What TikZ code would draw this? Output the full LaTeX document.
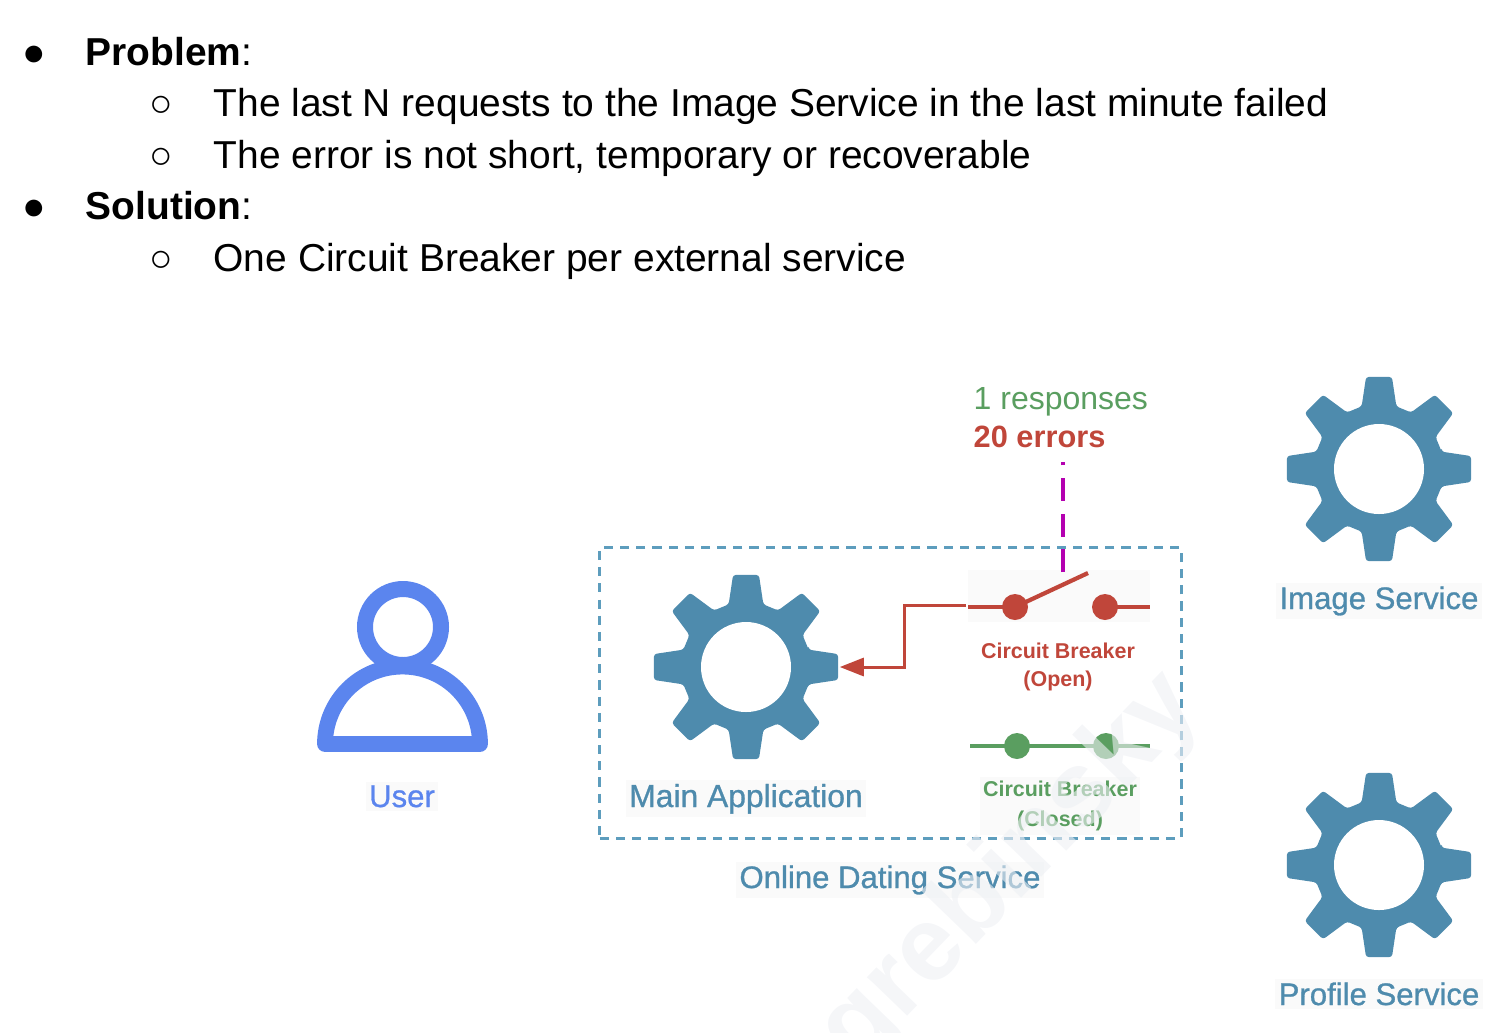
\documentclass[tikz,border=0pt]{standalone}
\usepackage{fontspec}
\setmainfont{Liberation Sans}
\newfontfamily\labelfont[FakeBold=0.9]{Liberation Sans}
\usetikzlibrary{arrows.meta}

\definecolor{gearblue}{HTML}{4E8BAD}
\definecolor{userblue}{HTML}{5B85EE}
\definecolor{boxblue}{HTML}{5D9DBD}
\definecolor{openred}{HTML}{C0463A}
\definecolor{closedgreen}{HTML}{5A9E60}
\definecolor{leverpurple}{HTML}{B400B0}
\definecolor{paleback}{HTML}{FAFAFA}
\definecolor{markgrey}{HTML}{EEF0F4}

\tikzset{
	x=0.01cm, y=-0.01cm,
	listtext/.style={anchor=base west, inner sep=0, font=\fontsize{11.07pt}{13pt}\selectfont},
	iconlabel/.style={anchor=base, inner sep=1, fill=paleback, font=\labelfont\fontsize{#1}{11pt}\selectfont},
	iconlabel/.default=8.85pt,
	breakerlabel/.style={inner sep=1, align=center, font=\fontsize{6.1pt}{8pt}\selectfont\bfseries},
	gearbox/.style={circle, inner sep=0, minimum size=1.86cm},
	breakerdot/.style={circle, inner sep=0, minimum size=0.26cm, fill=#1},
	gear/.pic={
		\fill[gearblue, even odd rule, rounded corners=0.8pt] (-15.5:65)
			\foreach \a in {0,45,...,315} {
				-- (\a-15.5:65) -- (\a-8:93) -- (\a+8:93) -- (\a+15.5:65)
			} -- cycle;
		\fill[white] (0,0) circle[radius=45];
	}
}

\begin{document}
\begin{tikzpicture}
	\useasboundingbox (0,0) rectangle (1506,1032);

	% bullet list
	\node[listtext] (b1) at (22,65) {●};
	\node[listtext] (t1) at (85,65) {\textbf{Problem}:};
	\node[listtext] (b2) at (149,116) {○};
	\node[listtext] (t2) at (213,116) {The last N requests to the Image Service in the last minute failed};
	\node[listtext] (b3) at (149,168) {○};
	\node[listtext] (t3) at (213,168) {The error is not short, temporary or recoverable};
	\node[listtext] (b4) at (22,219) {●};
	\node[listtext] (t4) at (85,219) {\textbf{Solution}:};
	\node[listtext] (b5) at (149,271) {○};
	\node[listtext] (t5) at (213,271) {One Circuit Breaker per external service};

	% user
	\draw[userblue, line width=4.5pt, line join=round] (325,744) arc[start angle=180, end angle=360, radius=77.5] -- cycle;
	\draw[userblue, line width=4.55pt, fill=white] (403,627) circle[radius=38];
	\node[iconlabel, text=userblue] (userlabel) at (402,807) {User};

	% online dating service
	\node[draw=boxblue, line width=0.85pt, dash pattern=on 2.6pt off 2pt, minimum width=5.81cm, minimum height=2.9cm, inner sep=0] (dating) at (890.5,693) {};
	\node[iconlabel, text=gearblue] (datinglabel) at (890,888) {Online Dating Service};

	\node[gearbox] (mainapp) at (746,667) {};
	\pic at (mainapp) {gear};
	\node[iconlabel=9.05pt, text=gearblue] (mainlabel) at (746,807) {Main Application};

	% open breaker
	\fill[paleback] (968,570) rectangle (1150,622);
	\node[breakerdot=openred] (open1) at (1015,607) {};
	\node[breakerdot=openred] (open2) at (1105,607) {};
	\coordinate (openleft) at (968,607);
	\coordinate (openright) at (1150,607);
	\coordinate (levertip) at (1088,573);
	\coordinate (leverup) at (1063,572);
	\coordinate (leverdown) at (1063,462);
	\draw[openred, line width=1.2pt] (openleft) -- (open1.center);
	\draw[openred, line width=1.2pt] (open2.center) -- (openright);
	\draw[openred, line width=1.2pt] (open1.center) -- (levertip);
	\node[breakerlabel, text=openred] (openlabel) at (1058,667) {Circuit Breaker\\(Open)};

	\coordinate (wirestart) at (966,605);
	\coordinate (wirebend) at (904,667);
	\draw[-{Triangle[length=0.24cm, width=0.18cm]}, openred, line width=0.85pt] (wirestart) -| (wirebend) -- (mainapp.east);

	% closed breaker
	\node[breakerdot=closedgreen] (closed1) at (1017,746) {};
	\node[breakerdot=closedgreen] (closed2) at (1106,746) {};
	\coordinate (closedleft) at (970,746);
	\coordinate (closedright) at (1150,746);
	\draw[closedgreen, line width=1.2pt] (closedleft) -- (closed1.center) -- (closed2.center) -- (closedright);
	\node[breakerlabel, fill=paleback, text=closedgreen] (closedlabel) at (1060,806) {Circuit Breaker\\[0.6pt](Closed)};

	% counters
	\node[anchor=base west, inner sep=0, text=closedgreen, font=\fontsize{9.1pt}{11pt}\selectfont] (responses) at (973,409) {1 responses};
	\node[anchor=base west, inner sep=0, text=openred, font=\fontsize{8.75pt}{11pt}\selectfont\bfseries] (errors) at (973,447) {20 errors};
	\draw[leverpurple, line width=1.3pt, dash pattern=on 6.5pt off 3.6pt] (leverup) -- (leverdown);

	% external services
	\node[gearbox] (imagegear) at (1379,469) {};
	\pic at (imagegear) {gear};
	\node[iconlabel, text=gearblue] (imagelabel) at (1379,609) {Image Service};
	\node[gearbox] (profilegear) at (1379,865) {};
	\pic at (profilegear) {gear};
	\node[iconlabel, text=gearblue] (profilelabel) at (1379,1005) {Profile Service};

	% watermark
	\begin{scope}
		\clip (0,0) rectangle (1506,1032);
		\node[rotate=46, text=markgrey, text opacity=0.6, font=\fontsize{30pt}{36pt}\selectfont\bfseries] (mark) at (1011,870) {grebinsky};
	\end{scope}
\end{tikzpicture}
\end{document}
